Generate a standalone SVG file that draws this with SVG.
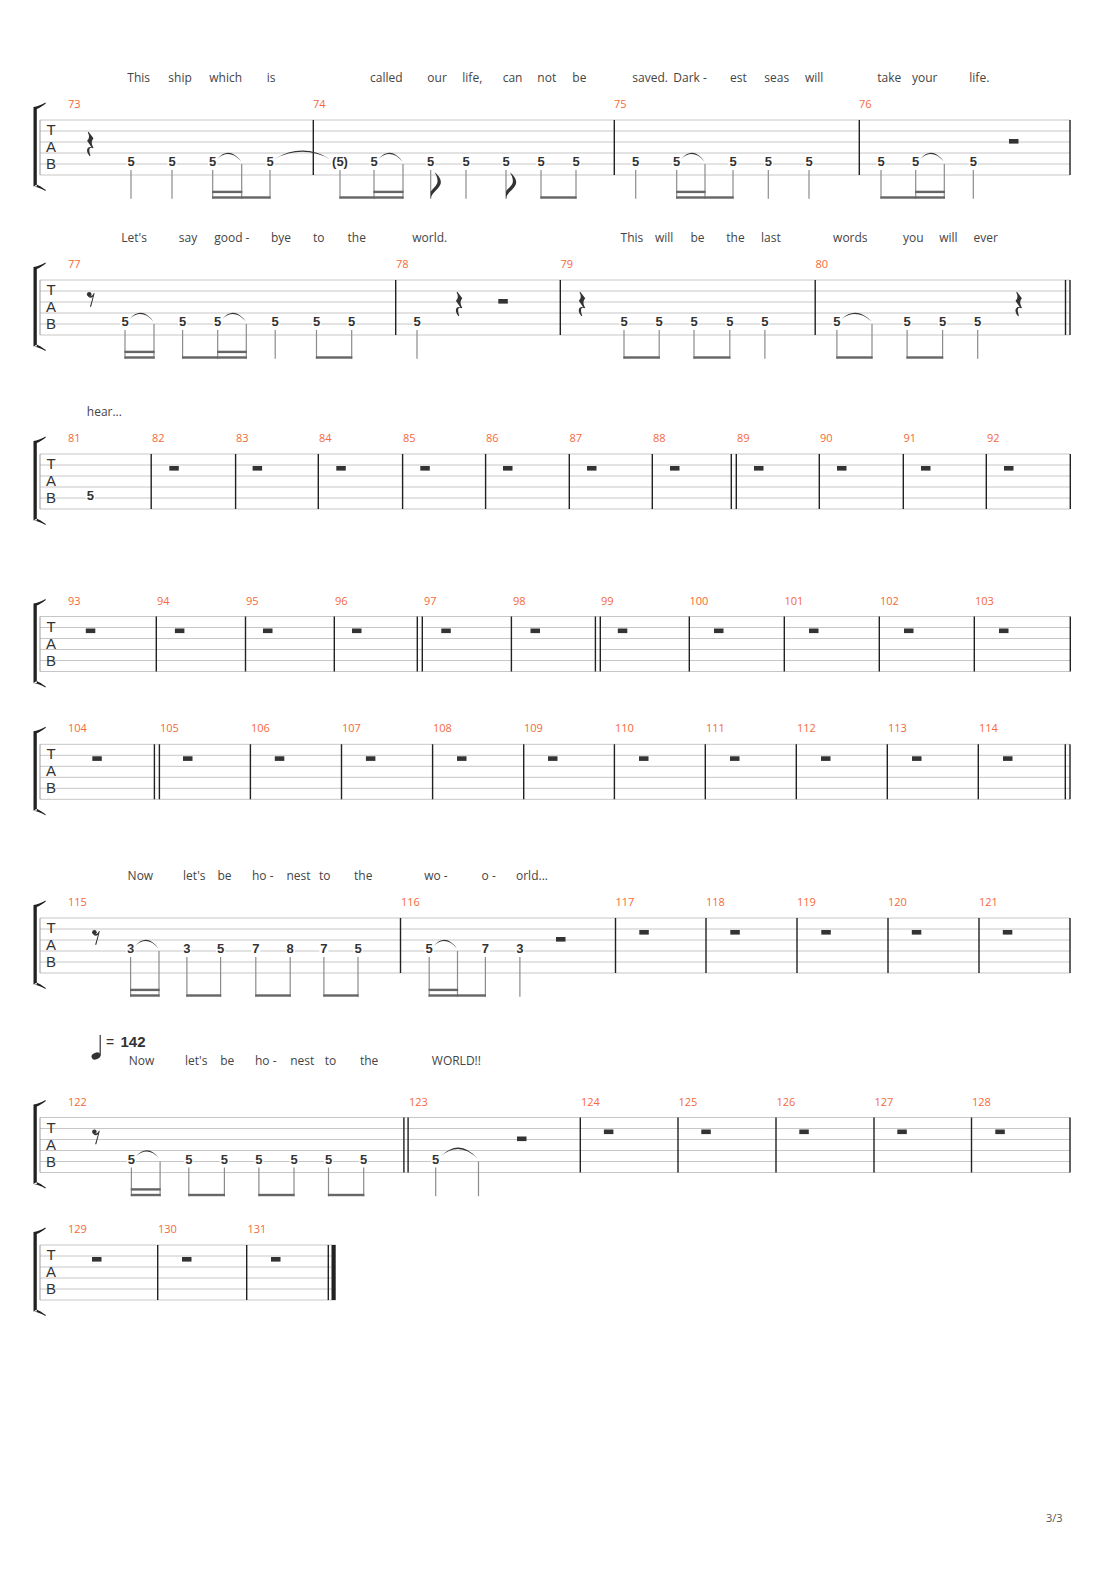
<svg xmlns="http://www.w3.org/2000/svg" width="1110" height="1570" viewBox="0 0 1110 1570">
<defs>
<style>
.sl{stroke:#c6c6c6;stroke-width:1;fill:none}
.lb{stroke:#9a9a9a;stroke-width:1}
.bl{stroke:#222;stroke-width:1.4;fill:none}
.st{stroke:#8c8c8c;stroke-width:1.2;fill:none}
.bm{fill:#666}
.nb{fill:#fff}
.fn{font-family:"Liberation Sans",Arial,sans-serif;font-weight:bold;font-size:13px;fill:#333;text-anchor:middle}
.mn{font-family:"Open Sans","Noto Sans",sans-serif;font-size:11px;fill:#f5693a}
.ly{font-family:"Open Sans","Noto Sans",sans-serif;font-size:12px;fill:#444}
.tab{font-family:"Liberation Sans",Arial,sans-serif;font-size:15px;fill:#333;text-anchor:middle}
.rs{fill:#333}
.ti{fill:#333}
.br{fill:#222}
</style>
<g id="qr" class="rs"><path d="M2,0 L7,6.5 C5,9 4.5,11.5 7,16 L6.5,16.5 C3.5,15 1.5,16.5 4,24 L3.3,24.6 C-1,20 0,14.5 5,15.5 L0.6,9 C3,6.5 3.2,4 1.3,0.7 Z"/></g>
<g id="er" class="rs"><circle cx="2.4" cy="2.6" r="2.3"/><path d="M1.5,4 C3.5,5.2 5.8,4 7,1.2 L7.8,1.5 L4.3,15 L3.1,15 L6,5 C4.8,6.2 3,6.4 1.5,5 Z"/></g>
<g id="fl" class="rs"><path d="M0,0 C0.5,-6 8,-9 10,-15 C11,-19 8,-23 4,-26.5 C6.5,-22 7.5,-18.5 6.5,-15.5 C5,-12 1.5,-10 0,-7 Z"/></g>
<path id="brk" class="br" d="M33.5,-13 L36.8,-13 L36.8,66.5 L33.5,66.5 Z M33.5,-13 C37,-13.5 41,-15 45.5,-17.5 L45.8,-16.6 C42,-13.8 39,-12 36.8,-11 Z M33.5,66.5 C37,67 41,68.5 45.5,71 L45.8,70.1 C42,67.3 39,65.5 36.8,64.5 Z"/>
</defs>
<rect width="1110" height="1570" fill="#fff"/>

<!-- System 1 : measures 73-76 -->
<g id="system1" transform="translate(0,120)">
<g id="s1-staff">
<path class="sl" d="M40,0H1070M40,11H1070M40,22H1070M40,33H1070M40,44H1070M40,55H1070"/>
<line class="lb" x1="40" y1="0" x2="40" y2="55"/>
<use href="#brk"/>
<text class="tab" x="51" y="15">T</text><text class="tab" x="51" y="32">A</text><text class="tab" x="51" y="49">B</text>
<path class="bl" d="M313.3,0V55M614.3,0V55M859.3,0V55M1070,0V55"/>
</g>
<g id="s1-lyrics" class="ly">
<text x="127.3" y="-38">This</text><text x="168.3" y="-38">ship</text><text x="209.3" y="-38">which</text><text x="266.7" y="-38">is</text>
<text x="370" y="-38">called</text><text x="427.3" y="-38">our</text><text x="462.3" y="-38">life,</text><text x="502.7" y="-38">can</text><text x="537.3" y="-38">not</text><text x="572.3" y="-38">be</text>
<text x="632.3" y="-38">saved.</text><text x="673.3" y="-38">Dark -</text><text x="730" y="-38">est</text><text x="764.3" y="-38">seas</text><text x="805" y="-38">will</text>
<text x="877.3" y="-38">take</text><text x="912" y="-38">your</text><text x="969.3" y="-38">life.</text>
</g>
<g id="s1-mnum" class="mn"><text x="68" y="-12">73</text><text x="313" y="-12">74</text><text x="614" y="-12">75</text><text x="859" y="-12">76</text></g>
<g id="s1-notes">
<path class="st" d="M131,50V78.7M172,50V78.7M212.7,50V78.7M241.7,44V78.7M270,50V78.7M340,50V78.7M374,50V78.7M403,44V78.7M430.7,50V78.7M466,50V78.7M506,50V78.7M541,50V78.7M576,50V78.7M635.7,50V78.7M676.7,50V78.7M705,44V78.7M733,50V78.7M768.3,50V78.7M809,50V78.7M881,50V78.7M915.7,50V78.7M944.3,44V78.7M973.3,50V78.7"/>
<g class="bm">
<rect x="212.1" y="76.3" width="58.5" height="2.4"/><rect x="212.1" y="70.7" width="30.2" height="2.4"/>
<rect x="339.4" y="76.3" width="64.2" height="2.4"/><rect x="373.4" y="70.7" width="30.2" height="2.4"/>
<rect x="540.4" y="76.3" width="36.2" height="2.4"/>
<rect x="676.1" y="76.3" width="57.5" height="2.4"/><rect x="676.1" y="70.7" width="29.5" height="2.4"/>
<rect x="880.4" y="76.3" width="64.5" height="2.4"/><rect x="915.1" y="70.7" width="29.8" height="2.4"/>
</g>
<use href="#fl" x="430.7" y="78.7"/><use href="#fl" x="506" y="78.7"/>
<g class="nb">
<rect x="126.5" y="36" width="9" height="11"/><rect x="167.5" y="36" width="9" height="11"/><rect x="208.2" y="36" width="9" height="11"/><rect x="265.5" y="36" width="9" height="11"/>
<rect x="331" y="36" width="18" height="11"/><rect x="369.5" y="36" width="9" height="11"/><rect x="426.2" y="36" width="9" height="11"/><rect x="461.5" y="36" width="9" height="11"/>
<rect x="501.5" y="36" width="9" height="11"/><rect x="536.5" y="36" width="9" height="11"/><rect x="571.5" y="36" width="9" height="11"/><rect x="631.2" y="36" width="9" height="11"/>
<rect x="672.2" y="36" width="9" height="11"/><rect x="728.5" y="36" width="9" height="11"/><rect x="763.8" y="36" width="9" height="11"/><rect x="804.5" y="36" width="9" height="11"/>
<rect x="876.5" y="36" width="9" height="11"/><rect x="911.2" y="36" width="9" height="11"/><rect x="968.8" y="36" width="9" height="11"/>
</g>
<g class="fn">
<text x="131" y="46.2">5</text><text x="172" y="46.2">5</text><text x="212.7" y="46.2">5</text><text x="270" y="46.2">5</text>
<text x="340" y="46.2">(5)</text><text x="374" y="46.2">5</text><text x="430.7" y="46.2">5</text><text x="466" y="46.2">5</text>
<text x="506" y="46.2">5</text><text x="541" y="46.2">5</text><text x="576" y="46.2">5</text><text x="635.7" y="46.2">5</text>
<text x="676.7" y="46.2">5</text><text x="733" y="46.2">5</text><text x="768.3" y="46.2">5</text><text x="809" y="46.2">5</text>
<text x="881" y="46.2">5</text><text x="915.7" y="46.2">5</text><text x="973.3" y="46.2">5</text>
</g>
<g class="ti">
<path d="M217.2,39 Q229.2,25.5 241.2,41.5 Q229.2,28 217.2,39 Z"/>
<path d="M274.5,39 Q302.8,22 331,39.5 Q302.8,24.5 274.5,39 Z"/>
<path d="M378.5,39 Q390.5,25.5 402.5,41.5 Q390.5,28 378.5,39 Z"/>
<path d="M681.2,39 Q692.9,25.5 704.5,41.5 Q692.9,28 681.2,39 Z"/>
<path d="M920.2,39 Q932,25.5 943.8,41.5 Q932,28 920.2,39 Z"/>
</g>
<use href="#qr" x="86.5" y="11.7"/>
<rect class="rs" x="1009" y="19" width="9.5" height="4.6"/>
</g>
</g>

<!-- System 2 : measures 77-80 -->
<g id="system2" transform="translate(0,280)">
<g id="s2-staff">
<path class="sl" d="M40,0H1070M40,11H1070M40,22H1070M40,33H1070M40,44H1070M40,55H1070"/>
<line class="lb" x1="40" y1="0" x2="40" y2="55"/>
<use href="#brk"/>
<text class="tab" x="51" y="15">T</text><text class="tab" x="51" y="32">A</text><text class="tab" x="51" y="49">B</text>
<path class="bl" d="M395.7,0V55M560.3,0V55M815.2,0V55M1065.5,0V55M1070,0V55"/>
</g>
<g id="s2-lyrics" class="ly">
<text x="121.3" y="-38">Let's</text><text x="178.8" y="-38">say</text><text x="214.2" y="-38">good -</text><text x="271" y="-38">bye</text><text x="313" y="-38">to</text><text x="347.5" y="-38">the</text><text x="412.3" y="-38">world.</text>
<text x="620.6" y="-38">This</text><text x="655" y="-38">will</text><text x="690.5" y="-38">be</text><text x="726.3" y="-38">the</text><text x="761.1" y="-38">last</text>
<text x="833.1" y="-38">words</text><text x="903" y="-38">you</text><text x="939.2" y="-38">will</text><text x="973.6" y="-38">ever</text>
</g>
<g id="s2-mnum" class="mn"><text x="68" y="-12">77</text><text x="396" y="-12">78</text><text x="560.5" y="-12">79</text><text x="815.5" y="-12">80</text></g>
<g id="s2-notes">
<path class="st" d="M125,50V78.7M154,44V78.7M182.6,50V78.7M217.7,50V78.7M246.3,44V78.7M275.2,50V78.7M316.5,50V78.7M351.7,50V78.7M417,50V78.7M624,50V78.7M659.2,50V78.7M694,50V78.7M729.8,50V78.7M764.9,50V78.7M836.9,50V78.7M872,44V78.7M907.1,50V78.7M942.6,50V78.7M977.7,50V78.7"/>
<g class="bm">
<rect x="124.4" y="76.3" width="30.2" height="2.4"/><rect x="124.4" y="70.7" width="30.2" height="2.4"/>
<rect x="182" y="76.3" width="64.9" height="2.4"/><rect x="217.1" y="70.7" width="29.8" height="2.4"/>
<rect x="315.9" y="76.3" width="36.4" height="2.4"/>
<rect x="623.4" y="76.3" width="36.4" height="2.4"/>
<rect x="693.4" y="76.3" width="37" height="2.4"/>
<rect x="836.3" y="76.3" width="36.3" height="2.4"/>
<rect x="906.5" y="76.3" width="36.7" height="2.4"/>
</g>
<g class="nb">
<rect x="120.5" y="36" width="9" height="11"/><rect x="178.1" y="36" width="9" height="11"/><rect x="213.2" y="36" width="9" height="11"/><rect x="270.7" y="36" width="9" height="11"/>
<rect x="312" y="36" width="9" height="11"/><rect x="347.2" y="36" width="9" height="11"/><rect x="412.5" y="36" width="9" height="11"/><rect x="619.5" y="36" width="9" height="11"/>
<rect x="654.7" y="36" width="9" height="11"/><rect x="689.5" y="36" width="9" height="11"/><rect x="725.3" y="36" width="9" height="11"/><rect x="760.4" y="36" width="9" height="11"/>
<rect x="832.4" y="36" width="9" height="11"/><rect x="902.6" y="36" width="9" height="11"/><rect x="938.1" y="36" width="9" height="11"/><rect x="973.2" y="36" width="9" height="11"/>
</g>
<g class="fn">
<text x="125" y="46.2">5</text><text x="182.6" y="46.2">5</text><text x="217.7" y="46.2">5</text><text x="275.2" y="46.2">5</text>
<text x="316.5" y="46.2">5</text><text x="351.7" y="46.2">5</text><text x="417" y="46.2">5</text><text x="624" y="46.2">5</text>
<text x="659.2" y="46.2">5</text><text x="694" y="46.2">5</text><text x="729.8" y="46.2">5</text><text x="764.9" y="46.2">5</text>
<text x="836.9" y="46.2">5</text><text x="907.1" y="46.2">5</text><text x="942.6" y="46.2">5</text><text x="977.7" y="46.2">5</text>
</g>
<g class="ti">
<path d="M129.5,39 Q141.5,25.5 153.5,41.5 Q141.5,28 129.5,39 Z"/>
<path d="M222.2,39 Q234,25.5 245.8,41.5 Q234,28 222.2,39 Z"/>
<path d="M841.4,39 Q856.5,25.5 871.5,41.5 Q856.5,28 841.4,39 Z"/>
</g>
<use href="#er" x="86.8" y="11.7"/>
<use href="#qr" x="455.3" y="11.7"/>
<rect class="rs" x="498.3" y="19" width="9.5" height="4.6"/>
<use href="#qr" x="578.2" y="11.7"/>
<use href="#qr" x="1014.9" y="11.7"/>
</g>
</g>

<!-- System 3 : measures 81-92 -->
<g id="system3" transform="translate(0,454)">
<g id="s3-staff">
<path class="sl" d="M40,0H1070M40,11H1070M40,22H1070M40,33H1070M40,44H1070M40,55H1070"/>
<line class="lb" x1="40" y1="0" x2="40" y2="55"/>
<use href="#brk"/>
<text class="tab" x="51" y="15">T</text><text class="tab" x="51" y="32">A</text><text class="tab" x="51" y="49">B</text>
<path class="bl" d="M151.2,0V55M235.6,0V55M318.3,0V55M402.6,0V55M485.6,0V55M569.3,0V55M652.3,0V55M731.3,0V55M736.3,0V55M819.3,0V55M903.3,0V55M986.3,0V55M1070.3,0V55"/>
</g>
<g id="s3-lyrics" class="ly"><text x="86.8" y="-38">hear...</text></g>
<g id="s3-mnum" class="mn">
<text x="68" y="-12">81</text><text x="152" y="-12">82</text><text x="236" y="-12">83</text><text x="319" y="-12">84</text><text x="403" y="-12">85</text><text x="486" y="-12">86</text>
<text x="569.5" y="-12">87</text><text x="653" y="-12">88</text><text x="737" y="-12">89</text><text x="820" y="-12">90</text><text x="903.5" y="-12">91</text><text x="987" y="-12">92</text>
</g>
<g id="s3-notes">
<rect class="nb" x="85.8" y="36" width="9" height="11"/>
<text class="fn" x="90.3" y="46.2">5</text>
<g class="rs">
<rect x="169.3" y="12" width="9.5" height="4.6"/><rect x="252.6" y="12" width="9.5" height="4.6"/><rect x="336.3" y="12" width="9.5" height="4.6"/><rect x="420.3" y="12" width="9.5" height="4.6"/>
<rect x="503" y="12" width="9.5" height="4.6"/><rect x="587" y="12" width="9.5" height="4.6"/><rect x="670" y="12" width="9.5" height="4.6"/><rect x="754" y="12" width="9.5" height="4.6"/>
<rect x="837" y="12" width="9.5" height="4.6"/><rect x="921" y="12" width="9.5" height="4.6"/><rect x="1004" y="12" width="9.5" height="4.6"/>
</g>
</g>
</g>

<!-- System 4 : measures 93-103 -->
<g id="system4" transform="translate(0,616.5)">
<g id="s4-staff">
<path class="sl" d="M40,0H1070M40,11H1070M40,22H1070M40,33H1070M40,44H1070M40,55H1070"/>
<line class="lb" x1="40" y1="0" x2="40" y2="55"/>
<use href="#brk"/>
<text class="tab" x="51" y="15">T</text><text class="tab" x="51" y="32">A</text><text class="tab" x="51" y="49">B</text>
<path class="bl" d="M156.3,0V55M245.5,0V55M334.3,0V55M417.3,0V55M422.3,0V55M511.4,0V55M595.4,0V55M600.3,0V55M689.3,0V55M784.3,0V55M879.3,0V55M974.3,0V55M1070.3,0V55"/>
</g>
<g id="s4-mnum" class="mn">
<text x="68" y="-12">93</text><text x="157" y="-12">94</text><text x="246" y="-12">95</text><text x="335" y="-12">96</text><text x="424" y="-12">97</text><text x="513" y="-12">98</text>
<text x="601" y="-12">99</text><text x="689.5" y="-12">100</text><text x="784.5" y="-12">101</text><text x="880" y="-12">102</text><text x="975" y="-12">103</text>
</g>
<g id="s4-rests" class="rs">
<rect x="85.8" y="12" width="9.5" height="4.6"/><rect x="174.9" y="12" width="9.5" height="4.6"/><rect x="263" y="12" width="9.5" height="4.6"/><rect x="352" y="12" width="9.5" height="4.6"/>
<rect x="441.3" y="12" width="9.5" height="4.6"/><rect x="530.5" y="12" width="9.5" height="4.6"/><rect x="617.8" y="12" width="9.5" height="4.6"/><rect x="714" y="12" width="9.5" height="4.6"/>
<rect x="809" y="12" width="9.5" height="4.6"/><rect x="904" y="12" width="9.5" height="4.6"/><rect x="999" y="12" width="9.5" height="4.6"/>
</g>
</g>

<!-- System 5 : measures 104-114 -->
<g id="system5" transform="translate(0,744.3)">
<g id="s5-staff">
<path class="sl" d="M40,0H1070M40,11H1070M40,22H1070M40,33H1070M40,44H1070M40,55H1070"/>
<line class="lb" x1="40" y1="0" x2="40" y2="55"/>
<use href="#brk"/>
<text class="tab" x="51" y="15">T</text><text class="tab" x="51" y="32">A</text><text class="tab" x="51" y="49">B</text>
<path class="bl" d="M154.4,0V55M159.4,0V55M250.4,0V55M341.5,0V55M432.6,0V55M523.7,0V55M614.4,0V55M705.3,0V55M796.3,0V55M887.3,0V55M978.3,0V55M1065.3,0V55M1070,0V55"/>
</g>
<g id="s5-mnum" class="mn">
<text x="68" y="-12">104</text><text x="160" y="-12">105</text><text x="251" y="-12">106</text><text x="342" y="-12">107</text><text x="433" y="-12">108</text><text x="524" y="-12">109</text>
<text x="615" y="-12">110</text><text x="706" y="-12">111</text><text x="797" y="-12">112</text><text x="888" y="-12">113</text><text x="979" y="-12">114</text>
</g>
<g id="s5-rests" class="rs">
<rect x="92.3" y="12" width="9.5" height="4.6"/><rect x="183" y="12" width="9.5" height="4.6"/><rect x="274.8" y="12" width="9.5" height="4.6"/><rect x="365.9" y="12" width="9.5" height="4.6"/>
<rect x="457" y="12" width="9.5" height="4.6"/><rect x="548" y="12" width="9.5" height="4.6"/><rect x="639" y="12" width="9.5" height="4.6"/><rect x="730" y="12" width="9.5" height="4.6"/>
<rect x="821" y="12" width="9.5" height="4.6"/><rect x="912" y="12" width="9.5" height="4.6"/><rect x="1003" y="12" width="9.5" height="4.6"/>
</g>
</g>

<!-- System 6 : measures 115-121 -->
<g id="system6" transform="translate(0,918)">
<g id="s6-staff">
<path class="sl" d="M40,0H1070M40,11H1070M40,22H1070M40,33H1070M40,44H1070M40,55H1070"/>
<line class="lb" x1="40" y1="0" x2="40" y2="55"/>
<use href="#brk"/>
<text class="tab" x="51" y="15">T</text><text class="tab" x="51" y="32">A</text><text class="tab" x="51" y="49">B</text>
<path class="bl" d="M400.5,0V55M615.5,0V55M706,0V55M797,0V55M888,0V55M979,0V55M1070,0V55"/>
</g>
<g id="s6-lyrics" class="ly">
<text x="127.6" y="-38">Now</text><text x="183.1" y="-38">let's</text><text x="217.5" y="-38">be</text><text x="252" y="-38">ho -</text><text x="286.4" y="-38">nest</text><text x="319" y="-38">to</text><text x="354.1" y="-38">the</text>
<text x="424.2" y="-38">wo -</text><text x="481.6" y="-38">o -</text><text x="516" y="-38">orld...</text>
</g>
<g id="s6-mnum" class="mn">
<text x="68" y="-12">115</text><text x="401" y="-12">116</text><text x="615.5" y="-12">117</text><text x="706" y="-12">118</text><text x="797" y="-12">119</text><text x="888" y="-12">120</text><text x="979" y="-12">121</text>
</g>
<g id="s6-notes">
<path class="st" d="M130.6,39V78.7M159,33V78.7M186.9,39V78.7M220.6,39V78.7M255.8,39V78.7M290.2,39V78.7M323.9,39V78.7M358,39V78.7M429.2,39V78.7M457.5,33V78.7M485.4,39V78.7M519.9,39V78.7"/>
<g class="bm">
<rect x="130" y="76.3" width="29.6" height="2.4"/><rect x="130" y="70.7" width="29.6" height="2.4"/>
<rect x="186.3" y="76.3" width="34.9" height="2.4"/>
<rect x="255.2" y="76.3" width="35.6" height="2.4"/>
<rect x="323.3" y="76.3" width="35.3" height="2.4"/>
<rect x="428.6" y="76.3" width="57.4" height="2.4"/><rect x="428.6" y="70.7" width="29.5" height="2.4"/>
</g>
<g class="nb">
<rect x="126.1" y="25" width="9" height="11"/><rect x="182.4" y="25" width="9" height="11"/><rect x="216.1" y="25" width="9" height="11"/><rect x="251.3" y="25" width="9" height="11"/>
<rect x="285.7" y="25" width="9" height="11"/><rect x="319.4" y="25" width="9" height="11"/><rect x="353.5" y="25" width="9" height="11"/><rect x="424.7" y="25" width="9" height="11"/>
<rect x="480.9" y="25" width="9" height="11"/><rect x="515.4" y="25" width="9" height="11"/>
</g>
<g class="fn">
<text x="130.6" y="35.2">3</text><text x="186.9" y="35.2">3</text><text x="220.6" y="35.2">5</text><text x="255.8" y="35.2">7</text>
<text x="290.2" y="35.2">8</text><text x="323.9" y="35.2">7</text><text x="358" y="35.2">5</text><text x="429.2" y="35.2">5</text>
<text x="485.4" y="35.2">7</text><text x="519.9" y="35.2">3</text>
</g>
<g class="ti">
<path d="M135.1,28 Q146.8,14.5 158.5,30.5 Q146.8,17 135.1,28 Z"/>
<path d="M433.7,28 Q445.3,14.5 457,30.5 Q445.3,17 433.7,28 Z"/>
</g>
<use href="#er" x="92" y="11.7"/>
<rect class="rs" x="556" y="19" width="9.5" height="4.6"/>
<g class="rs">
<rect x="639.3" y="12" width="9.5" height="4.6"/><rect x="730.3" y="12" width="9.5" height="4.6"/><rect x="821.3" y="12" width="9.5" height="4.6"/><rect x="911.8" y="12" width="9.5" height="4.6"/><rect x="1002.8" y="12" width="9.5" height="4.6"/>
</g>
</g>
</g>

<!-- System 7 : measures 122-128 -->
<g id="system7" transform="translate(0,1117.5)">
<g id="s7-tempo">
<ellipse class="rs" cx="96" cy="-61.5" rx="4.6" ry="3.3" transform="rotate(-22 96 -61.5)"/>
<line x1="100.2" y1="-82.5" x2="100.2" y2="-62" stroke="#333" stroke-width="1.2"/>
<text x="106" y="-71" font-family="Liberation Sans, Arial, sans-serif" font-size="14" fill="#333">= <tspan x="120.5" font-weight="bold" font-size="15">142</tspan></text>
</g>
<g id="s7-staff">
<path class="sl" d="M40,0H1070M40,11H1070M40,22H1070M40,33H1070M40,44H1070M40,55H1070"/>
<line class="lb" x1="40" y1="0" x2="40" y2="55"/>
<use href="#brk"/>
<text class="tab" x="51" y="15">T</text><text class="tab" x="51" y="32">A</text><text class="tab" x="51" y="49">B</text>
<path class="bl" d="M403.9,0V55M408.1,0V55M580.3,0V55M678,0V55M776,0V55M874,0V55M971.5,0V55M1070,0V55"/>
</g>
<g id="s7-lyrics" class="ly">
<text x="128.7" y="-52.5">Now</text><text x="185" y="-52.5">let's</text><text x="220.2" y="-52.5">be</text><text x="255" y="-52.5">ho -</text><text x="290.2" y="-52.5">nest</text><text x="324.7" y="-52.5">to</text><text x="359.9" y="-52.5">the</text>
<text x="431.8" y="-52.5">WORLD!!</text>
</g>
<g id="s7-mnum" class="mn">
<text x="68" y="-12">122</text><text x="409" y="-12">123</text><text x="581" y="-12">124</text><text x="678.5" y="-12">125</text><text x="776.5" y="-12">126</text><text x="874.5" y="-12">127</text><text x="972" y="-12">128</text>
</g>
<g id="s7-notes">
<path class="st" d="M131.4,50V78.7M160.1,44V78.7M188.8,50V78.7M224.4,50V78.7M258.9,50V78.7M294,50V78.7M328.5,50V78.7M363.7,50V78.7M435.7,50V78.7M478.5,44V78.7"/>
<g class="bm">
<rect x="130.8" y="76.3" width="29.9" height="2.4"/><rect x="130.8" y="70.7" width="29.9" height="2.4"/>
<rect x="188.2" y="76.3" width="36.8" height="2.4"/>
<rect x="258.3" y="76.3" width="36.3" height="2.4"/>
<rect x="327.9" y="76.3" width="36.4" height="2.4"/>
</g>
<g class="nb">
<rect x="126.9" y="36" width="9" height="11"/><rect x="184.3" y="36" width="9" height="11"/><rect x="219.9" y="36" width="9" height="11"/><rect x="254.4" y="36" width="9" height="11"/>
<rect x="289.5" y="36" width="9" height="11"/><rect x="324" y="36" width="9" height="11"/><rect x="359.2" y="36" width="9" height="11"/><rect x="431.2" y="36" width="9" height="11"/>
</g>
<g class="fn">
<text x="131.4" y="46.2">5</text><text x="188.8" y="46.2">5</text><text x="224.4" y="46.2">5</text><text x="258.9" y="46.2">5</text>
<text x="294" y="46.2">5</text><text x="328.5" y="46.2">5</text><text x="363.7" y="46.2">5</text><text x="435.7" y="46.2">5</text>
</g>
<g class="ti">
<path d="M135.9,39 Q147.8,25.5 159.6,41.5 Q147.8,28 135.9,39 Z"/>
<path d="M441,38.5 Q459.7,20 478,41.5 Q459.7,23 441,38.5 Z"/>
</g>
<use href="#er" x="92" y="11.7"/>
<rect class="rs" x="517" y="19" width="9.5" height="4.6"/>
<g class="rs">
<rect x="603.9" y="12" width="9.5" height="4.6"/><rect x="701.3" y="12" width="9.5" height="4.6"/><rect x="799.3" y="12" width="9.5" height="4.6"/><rect x="897.3" y="12" width="9.5" height="4.6"/><rect x="995.3" y="12" width="9.5" height="4.6"/>
</g>
</g>
</g>

<!-- System 8 : measures 129-131 -->
<g id="system8" transform="translate(0,1245)">
<g id="s8-staff">
<path class="sl" d="M40,0H335.7M40,11H335.7M40,22H335.7M40,33H335.7M40,44H335.7M40,55H335.7"/>
<line class="lb" x1="40" y1="0" x2="40" y2="55"/>
<use href="#brk"/>
<text class="tab" x="51" y="15">T</text><text class="tab" x="51" y="32">A</text><text class="tab" x="51" y="49">B</text>
<path class="bl" d="M157.7,0V55M246.7,0V55M328.3,0V55"/>
<rect x="331.5" y="0" width="4.2" height="55" fill="#222"/>
</g>
<g id="s8-mnum" class="mn"><text x="68" y="-12">129</text><text x="158" y="-12">130</text><text x="247.5" y="-12">131</text></g>
<g id="s8-rests" class="rs">
<rect x="92" y="12" width="9.5" height="4.6"/><rect x="182" y="12" width="9.5" height="4.6"/><rect x="271" y="12" width="9.5" height="4.6"/>
</g>
</g>

<text id="page-number" x="1046" y="1522" font-family="Open Sans, Noto Sans, sans-serif" font-size="11" fill="#555">3/3</text>
</svg>
